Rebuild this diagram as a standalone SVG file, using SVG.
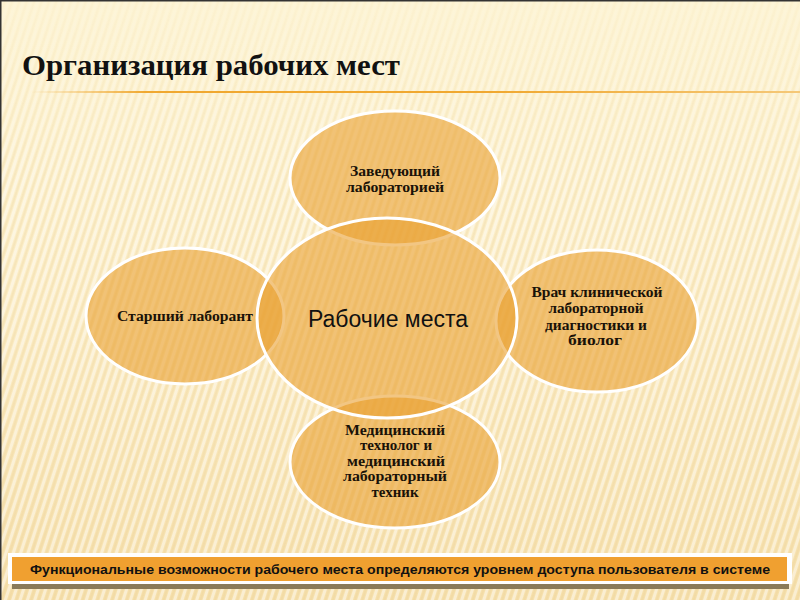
<svg xmlns="http://www.w3.org/2000/svg" width="800" height="600" viewBox="0 0 800 600">
<defs>
<linearGradient id="bg" x1="0" y1="0" x2="0" y2="1">
<stop offset="0" stop-color="#fdf4d4"/>
<stop offset="0.5" stop-color="#fbecc4"/>
<stop offset="1" stop-color="#f6e0ac"/>
</linearGradient>
<pattern id="stripes" width="7" height="7" patternUnits="userSpaceOnUse" patternTransform="rotate(18)">
<rect width="3" height="7" fill="#ffffff" opacity="0.45"/>
<rect x="4" width="2" height="7" fill="#e8c98a" opacity="0.2"/>
</pattern>
<linearGradient id="fade" x1="0" y1="0" x2="0" y2="1">
<stop offset="0" stop-color="#fff" stop-opacity="0.2"/>
<stop offset="0.3" stop-color="#fff" stop-opacity="1"/>
<stop offset="1" stop-color="#fff" stop-opacity="1"/>
</linearGradient>
<mask id="m"><rect width="800" height="600" fill="url(#fade)"/></mask>
<linearGradient id="rule" x1="0" y1="0" x2="1" y2="0">
<stop offset="0" stop-color="#f2b040" stop-opacity="0"/>
<stop offset="0.15" stop-color="#f0a830"/>
<stop offset="0.6" stop-color="#f0a830"/>
<stop offset="1" stop-color="#f5c878"/>
</linearGradient>
<style>
.node{fill:#eaa030;fill-opacity:0.6;stroke:#ffffff;stroke-width:3}
.lbl{font-family:"Liberation Serif","Times New Roman",serif;font-weight:bold;font-size:14px;fill:#1a1208;text-anchor:middle}
</style>
</defs>
<rect width="800" height="600" fill="url(#bg)"/>
<rect width="800" height="600" fill="url(#stripes)" mask="url(#m)"/>
<rect x="0" y="0" width="800" height="1.5" fill="#333"/>
<rect x="0" y="0" width="1.5" height="600" fill="#333"/>
<text x="22" y="75" font-family="Liberation Serif,serif" font-weight="bold" font-size="29" fill="#111" textLength="378" lengthAdjust="spacingAndGlyphs">Организация рабочих мест</text>
<rect x="30" y="91" width="770" height="2" fill="url(#rule)"/>
<g id="connectors"></g>
<g id="top"><ellipse class="node" cx="395" cy="178" rx="105" ry="67"/>
<text class="lbl" x="395" y="176" textLength="90" lengthAdjust="spacingAndGlyphs">Заведующий</text><text class="lbl" x="395" y="192" textLength="98" lengthAdjust="spacingAndGlyphs">лабораторией</text></g>
<g id="left"><ellipse class="node" cx="185" cy="316" rx="99" ry="68"/>
<text class="lbl" x="185" y="321" textLength="136" lengthAdjust="spacingAndGlyphs">Старший лаборант</text></g>
<g id="right"><ellipse class="node" cx="597" cy="321" rx="101" ry="71"/>
<text class="lbl" x="597" y="297" textLength="131" lengthAdjust="spacingAndGlyphs">Врач клинической</text><text class="lbl" x="596" y="313" textLength="95" lengthAdjust="spacingAndGlyphs">лабораторной</text><text class="lbl" x="596" y="330" textLength="102" lengthAdjust="spacingAndGlyphs">диагностики и</text><text class="lbl" x="595" y="345" textLength="54" lengthAdjust="spacingAndGlyphs">биолог</text></g>
<g id="bottom"><ellipse class="node" cx="395" cy="462" rx="105" ry="66"/>
<text class="lbl" x="395" y="435" textLength="100" lengthAdjust="spacingAndGlyphs">Медицинский</text><text class="lbl" x="396" y="450" textLength="72" lengthAdjust="spacingAndGlyphs">технолог и</text><text class="lbl" x="396" y="466" textLength="98" lengthAdjust="spacingAndGlyphs">медицинский</text><text class="lbl" x="395" y="481" textLength="104" lengthAdjust="spacingAndGlyphs">лабораторный</text><text class="lbl" x="395" y="497" textLength="47" lengthAdjust="spacingAndGlyphs">техник</text></g>
<g id="center"><ellipse class="node" cx="387" cy="318" rx="130" ry="100"/>
<text x="388" y="327" font-family="Liberation Sans,Arial,sans-serif" font-size="23" fill="#111" text-anchor="middle">Рабочие места</text></g>
<g id="banner">
<rect x="12" y="584" width="777" height="5" fill="#8a7a58"/>
<rect x="8" y="553" width="784" height="31" fill="#ffffff"/>
<rect x="12" y="557" width="775" height="24" fill="#f0a030"/>
<text x="400" y="574" font-family="Liberation Sans Narrow,Liberation Sans,sans-serif" font-weight="bold" font-size="13.5" fill="#111" text-anchor="middle" textLength="740" lengthAdjust="spacingAndGlyphs">Функциональные возможности рабочего места определяются уровнем доступа пользователя в системе</text>
</g>
</svg>
